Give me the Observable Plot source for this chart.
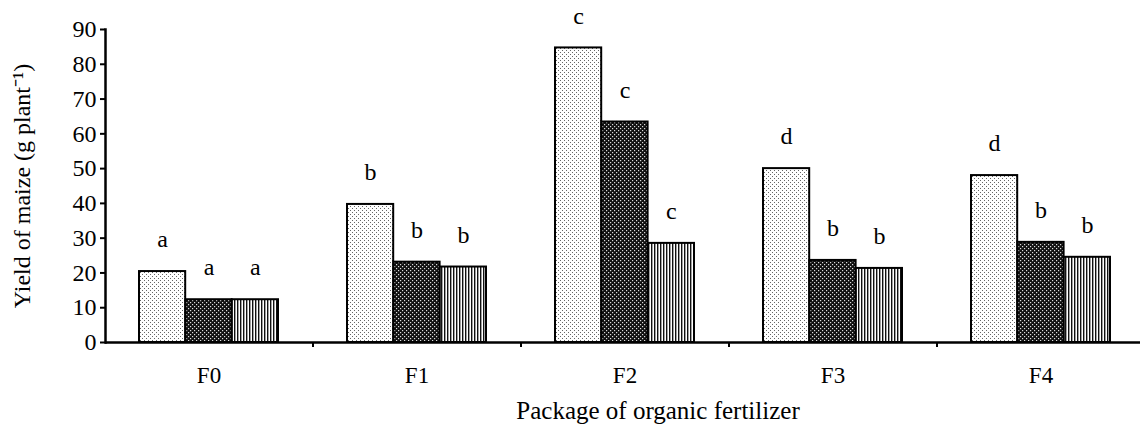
<!DOCTYPE html>
<html><head><meta charset="utf-8">
<script src="https://cdn.jsdelivr.net/npm/d3@7"></script>
<script src="https://cdn.jsdelivr.net/npm/@observablehq/plot@0.6"></script>
<style>html,body{margin:0;padding:0;overflow:hidden;background:#fff}</style>
</head><body><div id="chart"></div>
<script>
const categories = ["F0", "F1", "F2", "F3", "F4"];
const series = ["S1", "S2", "S3"];
const valuesS1 = [20.4, 39.7, 84.7, 50.0, 48.0];
const valuesS2 = [12.3, 23.1, 63.4, 23.6, 28.8];
const valuesS3 = [12.3, 21.7, 28.5, 21.3, 24.5];
const lettersS1 = ["a", "b", "c", "d", "d"];
const lettersS2 = ["a", "b", "c", "b", "b"];
const lettersS3 = ["a", "b", "c", "b", "b"];
const yTicks = [0, 10, 20, 30, 40, 50, 60, 70, 80, 90];
const yLabel = "Yield of maize (g plant\u207B\u00B9)";
const xLabel = "Package of organic fertilizer";

const seriesValues = [valuesS1, valuesS2, valuesS3];
const seriesLetters = [lettersS1, lettersS2, lettersS3];
const seriesFills = ["url(#p1)", "url(#p2)", "url(#p3)"];
const rows = [];
series.forEach((s, j) => categories.forEach((c, i) => rows.push({cat: c, s, j, v: seriesValues[j][i], l: seriesLetters[j][i]})));

const sub = 46.4;
const bars = series.map((s, j) => Plot.barY(rows.filter(d => d.j === j), {
  x: "cat", y: "v", fill: seriesFills[j], stroke: "black", strokeWidth: 2,
  insetLeft: j * sub, insetRight: (2 - j) * sub
}));
const letters = series.map((s, j) => Plot.text(rows.filter(d => d.j === j), {
  x: "cat", y: "v", text: "l", dx: (j - 1) * sub, dy: -32, fontSize: 24, lineAnchor: "middle", fill: "black"
}));

const plot = Plot.plot({
  width: 1140, height: 430,
  marginLeft: 105, marginRight: 0, marginTop: 29, marginBottom: 88,
  style: {fontFamily: "'Liberation Serif', 'Times New Roman', serif", fontSize: "24px", color: "black", background: "white"},
  x: {domain: categories, range: [105, 1145], paddingInner: 0.331, paddingOuter: 0.1654},
  y: {domain: [0, 90]},
  marks: [
    ...bars,
    ...letters,
    Plot.frame({anchor: "left", strokeWidth: 2.5}),
    Plot.ruleY([0], {strokeWidth: 2.5}),
    Plot.axisY({ticks: yTicks, tickSize: 5, tickPadding: 4, strokeWidth: 2, fontSize: 24,
      label: yLabel, labelAnchor: "center", labelOffset: 93, labelArrow: "none"}),
    Plot.axisX({text: null, tickSize: 5, dx: 104, strokeWidth: 2, label: null}),
    Plot.axisX({tickSize: 0, tickPadding: 24, fontSize: 23, label: null}),
    Plot.text([xLabel], {frameAnchor: "bottom", dx: 35, dy: 76, lineAnchor: "bottom", fontSize: 25, fill: "black"})
  ]
});

const svg = d3.select(plot);
const defs = svg.insert("defs", ":first-child");
const p1 = defs.append("pattern").attr("id", "p1").attr("patternUnits", "userSpaceOnUse").attr("width", 4).attr("height", 4);
p1.append("rect").attr("width", 4).attr("height", 4).attr("fill", "white");
p1.append("rect").attr("x", 0).attr("y", 0).attr("width", 1).attr("height", 1).attr("fill", "#666");
p1.append("rect").attr("x", 2).attr("y", 2).attr("width", 1).attr("height", 1).attr("fill", "#666");
const p2 = defs.append("pattern").attr("id", "p2").attr("patternUnits", "userSpaceOnUse").attr("width", 4).attr("height", 4);
p2.append("rect").attr("width", 4).attr("height", 4).attr("fill", "#111");
p2.append("rect").attr("x", 0).attr("y", 0).attr("width", 1.2).attr("height", 1.2).attr("fill", "#ddd");
p2.append("rect").attr("x", 2).attr("y", 2).attr("width", 1.2).attr("height", 1.2).attr("fill", "#ddd");
const p3 = defs.append("pattern").attr("id", "p3").attr("patternUnits", "userSpaceOnUse").attr("width", 3).attr("height", 4);
p3.append("rect").attr("width", 3).attr("height", 4).attr("fill", "white");
p3.append("rect").attr("x", 0).attr("y", 0).attr("width", 1.4).attr("height", 4).attr("fill", "#111");

document.getElementById("chart").appendChild(plot);
</script>
</body></html>
